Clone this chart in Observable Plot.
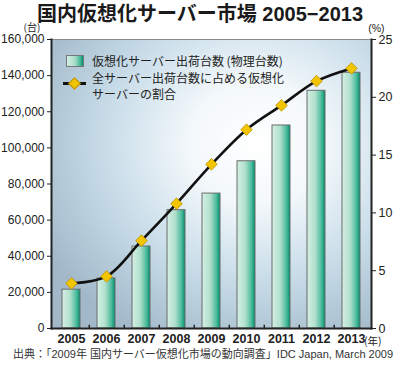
<!DOCTYPE html>
<html>
<head>
<meta charset="utf-8">
<script src="https://cdn.jsdelivr.net/npm/d3@7"></script>
<script src="https://cdn.jsdelivr.net/npm/@observablehq/plot@0.6"></script>
<style>
  html, body { margin: 0; padding: 0; background: #fff; }
  body { width: 400px; height: 367px; overflow: hidden; font-family: "Liberation Sans", "Noto Sans CJK JP", sans-serif; color: #222; }
  #wrap { position: relative; width: 400px; height: 367px; }
  #titlebar { height: 26px; box-sizing: border-box; padding-top: 3px; text-align: center; }
  #title { display: inline-block; font-size: 20px; font-weight: bold; line-height: 22px; color: #1a1a1a; }
  #chart svg { display: block; overflow: visible; }
  #caption { height: 21px; line-height: 16px; font-size: 11px; text-align: center; color: #333; padding-left: 6px; }
  .lg { position: absolute; font-family: "Noto Sans CJK JP", sans-serif; font-size: 12px; color: #222; line-height: 13px; white-space: nowrap; }
</style>
</head>
<body>
<div id="wrap">
  <div id="titlebar"><span id="title">国内仮想化サーバー市場 2005−2013</span></div>
  <div id="chart"></div>
  <div id="caption">出典：「2009年 国内サーバー仮想化市場の動向調査」IDC Japan, March 2009</div>
  <div class="lg" style="left:66px; top:55px; width:16px; height:10px; border:1px solid #777; background: linear-gradient(to right, #d4efe4, #a8dcc8 50%, #3db496 85%, #00906f);"></div>
  <div class="lg" style="left:92px; top:54px;">仮想化サーバー出荷台数 (物理台数)</div>
  <div class="lg" style="left:63px; top:82px; width:23px; height:3px; background:#111;"></div>
  <div class="lg" style="left:70px; top:79px; width:7px; height:7px; background:#f3c400; border:1px solid #b88f00; transform: rotate(45deg);"></div>
  <div class="lg" style="left:92px; top:71px;">全サーバー出荷台数に占める仮想化</div>
  <div class="lg" style="left:92px; top:87px;">サーバーの割合</div>
</div>
<script>
const years = ["2005","2006","2007","2008","2009","2010","2011","2012","2013"];
const shipments = [21500, 27700, 45400, 65500, 74700, 92600, 112400, 131600, 141600];
const sharePct = [3.9, 4.5, 7.6, 10.8, 14.2, 17.2, 19.3, 21.4, 22.5];
const leftTicks = [0, 20000, 40000, 60000, 80000, 100000, 120000, 140000, 160000];
const rightTicks = [0, 5, 10, 15, 20, 25];

const yMax = 160000, pMax = 25, k = yMax / pMax;
const bars = years.map((y, i) => ({year: y, value: shipments[i]}));
const pts = years.map((y, i) => ({year: y, pct: sharePct[i]}));

const plot = Plot.plot({
  width: 400,
  height: 320,
  marginTop: 13,
  marginBottom: 18,
  marginLeft: 51,
  marginRight: 29,
  style: {fontFamily: "'Liberation Sans', 'Noto Sans CJK JP', sans-serif", fontSize: "12px", color: "#222", overflow: "visible"},
  x: {domain: years, paddingInner: 0.5, paddingOuter: 0.25, axis: null, label: null},
  y: {domain: [0, yMax], axis: null, label: null},
  marks: [
    Plot.frame({fill: "url(#bgGrad)", stroke: "#8a8a8a", strokeWidth: 1}),
    Plot.barY(bars, {x: "year", y: "value", fill: "url(#barGrad)", stroke: "#6b6b6b", strokeWidth: 1}),
    Plot.ruleX(years.slice(0, -1), {x: d => d, dx: 17.78, y1: 0, y2: 1800, stroke: "#222", strokeWidth: 1.5}),
    Plot.frame({anchor: "left", stroke: "#222", strokeWidth: 2}),
    Plot.frame({anchor: "right", stroke: "#222", strokeWidth: 2}),
    Plot.frame({anchor: "bottom", stroke: "#222", strokeWidth: 2}),
    Plot.axisY({ticks: leftTicks, tickFormat: d3.format(","), tickSize: 4, tickPadding: 3, stroke: "#222", fontSize: 12, label: null}),
    Plot.axisY({anchor: "right", ticks: rightTicks.map(v => v * k), tickFormat: d => String(Math.round(d / k)), tickSize: 4, tickPadding: 3, stroke: "#222", fontSize: 12.5, label: null}),
    Plot.axisX({tickSize: 0, tickPadding: 6, fontWeight: "bold", fontSize: 12.5, label: null}),
    Plot.line(pts, {x: "year", y: d => d.pct * k, curve: "catmull-rom", stroke: "#111", strokeWidth: 2.6}),
    Plot.dot(pts, {x: "year", y: d => d.pct * k, symbol: "diamond2", r: 5.2, fill: "#f3c400", stroke: "#b88f00", strokeWidth: 0.8}),
    Plot.text(["(台)"], {text: d => d, frameAnchor: "top-left", dx: -28, dy: -16, fontSize: 10, fontFamily: "'Noto Sans CJK JP'"}),
    Plot.text(["(%)"], {text: d => d, frameAnchor: "top-right", dx: 13, dy: -15, fontSize: 10.5}),
    Plot.text(["(年)"], {text: d => d, frameAnchor: "bottom-right", dx: 10, dy: 16, fontSize: 10.5, fontFamily: "'Noto Sans CJK JP'"})
  ]
});

const svg = d3.select(plot);
const defs = svg.insert("defs", ":first-child");
const bg = defs.append("radialGradient").attr("id", "bgGrad")
  .attr("gradientUnits", "objectBoundingBox").attr("cx", 0.64).attr("cy", 0.36).attr("r", 0.75);
[[0, "#ffffff"], [0.28, "#f3f8fb"], [0.62, "#c9dde9"], [1, "#a3b9ca"]].forEach(([o, c]) =>
  bg.append("stop").attr("offset", o).attr("stop-color", c));
const bar = defs.append("linearGradient").attr("id", "barGrad").attr("x1", 0).attr("x2", 1).attr("y1", 0).attr("y2", 0);
[[0, "#d4efe4"], [0.45, "#b2e0cd"], [0.8, "#4cbb9c"], [1, "#00906f"]].forEach(([o, c]) =>
  bar.append("stop").attr("offset", o).attr("stop-color", c));

document.getElementById("chart").appendChild(plot);
</script>
</body>
</html>
